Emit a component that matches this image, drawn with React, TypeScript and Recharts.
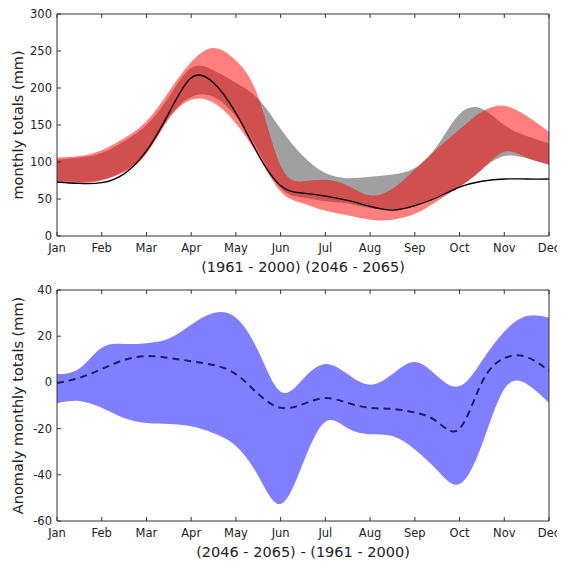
import React from "react"
import {
  ComposedChart,
  Area,
  Line,
  XAxis,
  YAxis,
} from "recharts"

// month labels and half-month positions (0 = Jan ... 11 = Dec)
const monthLabels = ["Jan", "Feb", "Mar", "Apr", "May", "Jun", "Jul", "Aug", "Sep", "Oct", "Nov", "Dec"]
const monthTicks = [0, 1, 2, 3, 4, 5, 6, 7, 8, 9, 10, 11]
const xPos = [0, 0.5, 1, 1.5, 2, 2.5, 3, 3.5, 4, 4.5, 5, 5.5, 6, 6.5, 7, 7.5, 8, 8.5, 9, 9.5, 10, 10.5, 11]

// top panel: monthly totals (mm)
const observedMean = [73, 71, 72, 84, 115, 166, 214, 207, 166, 110, 68, 58, 54, 48, 40, 35, 41, 52, 66, 74, 77, 77, 77]
const observedLow = [75, 73, 76, 88, 113, 160, 188, 188, 162, 115, 65, 52, 47, 44, 38, 36, 40, 52, 66, 90, 108, 105, 96]
const observedHigh = [103, 106, 112, 128, 150, 188, 227, 224, 207, 185, 145, 108, 85, 78, 80, 83, 92, 122, 165, 172, 150, 135, 125]
const futureLow = [73, 71, 75, 86, 111, 158, 184, 180, 152, 108, 60, 44, 34, 28, 22, 22, 30, 47, 67, 90, 114, 106, 97]
const futureHigh = [106, 108, 116, 132, 155, 195, 235, 254, 237, 188, 95, 74, 76, 68, 55, 64, 90, 118, 144, 168, 176, 162, 141]
const topTicks = [0, 50, 100, 150, 200, 250, 300]

// bottom panel: anomaly (mm)
const anomalyMean = [-0.3, 2, 5.8, 9.7, 11.4, 10.6, 9.2, 7.5, 3.6, -5, -11, -9.4, -6.8, -8.9, -11, -11.5, -13, -17, -20, 0, 10.5, 11, 5]
const anomalyLow = [-9, -8, -11, -15.4, -17.6, -18, -19, -22, -27.5, -40.5, -52.6, -35, -17, -19.8, -22.4, -23.2, -29, -38, -44, -27, -2.9, -0.7, -8.9]
const anomalyHigh = [3.6, 6, 15, 16.6, 17, 19, 25, 30, 28, 13.6, -4, 1.5, 8, 3.6, -1, 3.6, 8.8, 2.8, -1.6, 9.3, 22, 28.7, 28]
const bottomTicks = [-60, -40, -20, 0, 20, 40]

const topData = xPos.map((x, i) => ({
  x,
  obs: observedMean[i],
  obsRange: [observedLow[i], observedHigh[i]],
  futRange: [futureLow[i], futureHigh[i]],
}))

const bottomData = xPos.map((x, i) => ({
  x,
  mean: anomalyMean[i],
  range: [anomalyLow[i], anomalyHigh[i]],
}))

const FONT = "'DejaVu Sans', sans-serif"
const TEXT = "#222"
const FRAME = "#333"
const CURVE = "natural"
const noTick = () => <g />

const tickStyle = { fontSize: 11.5, fill: TEXT, fontFamily: FONT }

const YTitle = ({ text, viewBox }: any) => {
  const cy = viewBox.y + viewBox.height / 2
  return (
    <text
      x={10}
      y={cy}
      transform={`rotate(-90 10 ${cy})`}
      textAnchor="middle"
      dominantBaseline="central"
      fontSize={14.5}
      fontFamily={FONT}
      fill={TEXT}
    >
      {text}
    </text>
  )
}

const XTitle = ({ text, viewBox }: any) => (
  <text
    x={viewBox.x + viewBox.width / 2}
    y={viewBox.y + 31}
    textAnchor="middle"
    dominantBaseline="central"
    fontSize={14.5}
    fontFamily={FONT}
    fill={TEXT}
  >
    {text}
  </text>
)

const Frame = ({ domain, ticks, title, xTitle }: any) => [
  <XAxis
    key="xb"
    xAxisId="b"
    dataKey="x"
    type="number"
    domain={[0, 11]}
    ticks={monthTicks}
    tickFormatter={(v: number) => monthLabels[v]}
    tickSize={-4}
    tickMargin={12}
    tick={tickStyle}
    stroke={FRAME}
    height={48}
    interval={0}
    label={(p: any) => <XTitle text={xTitle} viewBox={p.viewBox} />}
  />,
  <XAxis
    key="xt"
    xAxisId="t"
    orientation="top"
    dataKey="x"
    type="number"
    domain={[0, 11]}
    ticks={monthTicks}
    tickSize={-4}
    tick={noTick}
    stroke={FRAME}
    height={1}
  />,
  <YAxis
    key="yl"
    yAxisId="l"
    domain={domain}
    ticks={ticks}
    tickSize={-4}
    tickMargin={9}
    tick={tickStyle}
    stroke={FRAME}
    width={49}
    interval={0}
    label={(p: any) => <YTitle text={title} viewBox={p.viewBox} />}
  />,
  <YAxis
    key="yr"
    yAxisId="r"
    orientation="right"
    domain={domain}
    ticks={ticks}
    tickSize={-4}
    tick={noTick}
    stroke={FRAME}
    width={1}
  />,
]

const App = () => {
  return (
    <div style={{ width: 557, fontFamily: FONT }}>
      <ComposedChart width={557} height={276} data={topData} margin={{ top: 5, right: 15, bottom: 0, left: 0 }}>
        {Frame({ domain: [0, 300], ticks: topTicks, title: "monthly totals (mm)", xTitle: "(1961 - 2000) (2046 - 2065)" })}
        <Area
          xAxisId="b"
          yAxisId="l"
          dataKey="obsRange"
          type={CURVE}
          stroke="none"
          fill="#a0a0a0"
          fillOpacity={1}
          isAnimationActive={false}
        />
        <Area
          xAxisId="b"
          yAxisId="l"
          dataKey="futRange"
          type={CURVE}
          stroke="none"
          fill="#ff0000"
          fillOpacity={0.5}
          isAnimationActive={false}
        />
        <Line
          xAxisId="b"
          yAxisId="l"
          dataKey="obs"
          type={CURVE}
          stroke="#000"
          strokeWidth={1.3}
          dot={false}
          isAnimationActive={false}
        />
      </ComposedChart>
      <ComposedChart width={557} height={285} data={bottomData} margin={{ top: 5, right: 15, bottom: 0, left: 0 }}>
        {Frame({ domain: [-60, 40], ticks: bottomTicks, title: "Anomaly monthly totals (mm)", xTitle: "(2046 - 2065) - (1961 - 2000)" })}
        <Area
          xAxisId="b"
          yAxisId="l"
          dataKey="range"
          type={CURVE}
          stroke="none"
          fill="#0000ff"
          fillOpacity={0.5}
          isAnimationActive={false}
        />
        <Line
          xAxisId="b"
          yAxisId="l"
          dataKey="mean"
          type={CURVE}
          stroke="#1e1e66"
          strokeWidth={2}
          strokeDasharray="7 5"
          dot={false}
          isAnimationActive={false}
        />
      </ComposedChart>
    </div>
  )
}

export default App
